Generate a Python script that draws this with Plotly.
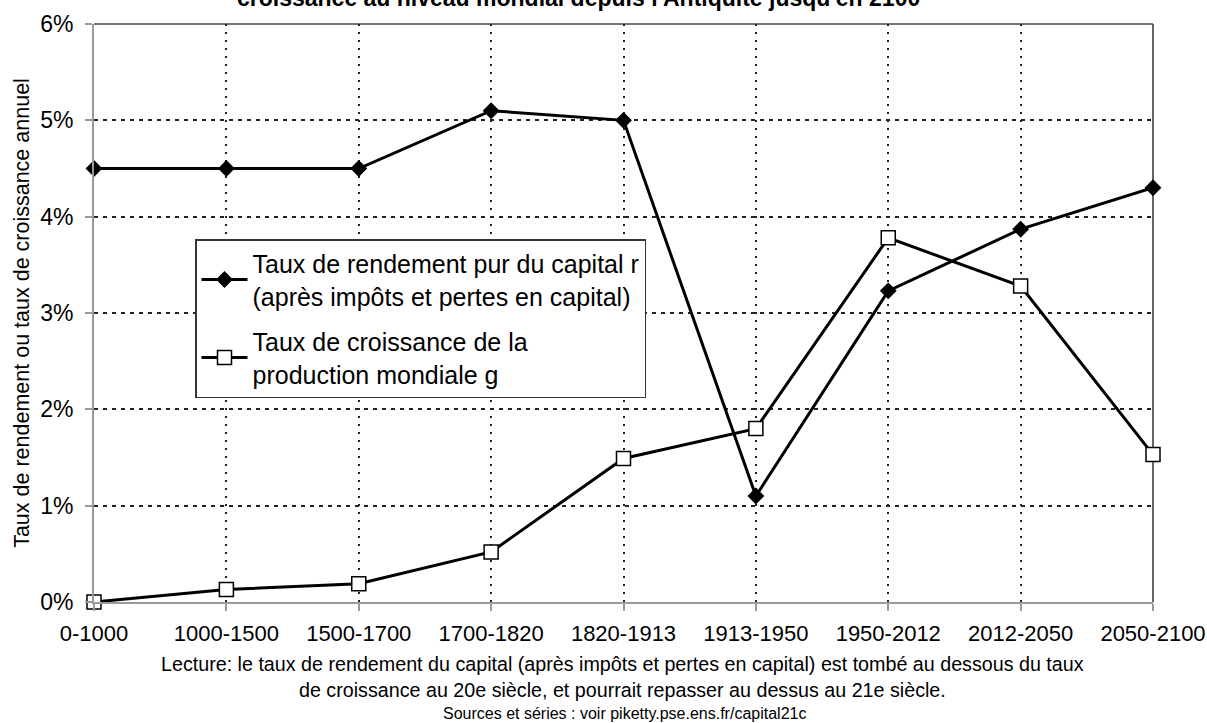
import plotly.graph_objects as go

periods = ["0-1000", "1000-1500", "1500-1700", "1700-1820", "1820-1913",
           "1913-1950", "1950-2012", "2012-2050", "2050-2100"]
r_values = [4.5, 4.5, 4.5, 5.1, 5.0, 1.1, 3.23, 3.87, 4.3]
g_values = [0.0, 0.13, 0.19, 0.52, 1.49, 1.8, 3.78, 3.28, 1.53]
y_tickvals = [0, 1, 2, 3, 4, 5, 6]
y_ticktext = ["0%", "1%", "2%", "3%", "4%", "5%", "6%"]

name_r = "Taux de rendement pur du capital r<br>(après impôts et pertes en capital)"
name_g = "Taux de croissance de la<br>production mondiale g"
title_text = "croissance au niveau mondial depuis l'Antiquité jusqu'en 2100"
caption1 = "Lecture: le taux de rendement du capital (après impôts et pertes en capital) est tombé au dessous du taux"
caption2 = "de croissance au 20e siècle, et pourrait repasser au dessus au 21e siècle."
source = "Sources et séries : voir piketty.pse.ens.fr/capital21c"

FONT = "Liberation Sans, Arial, sans-serif"

W, H = 1207, 723
ML, MR, MT, MB = 94, 54, 24, 121
PH = H - MT - MB
PW = W - ML - MR

def py(p):
    return (H - MB - p) / PH

def px(p):
    return (p - ML) / PW

fig = go.Figure()
fig.add_trace(go.Scatter(
    x=periods, y=r_values, name=name_r, mode="lines+markers",
    line=dict(color="black", width=3),
    marker=dict(symbol="diamond", size=13, color="black"),
    cliponaxis=False, legendgroup="r",
))
fig.add_trace(go.Scatter(
    x=periods, y=g_values, name=name_g, mode="lines+markers",
    line=dict(color="black", width=3),
    marker=dict(symbol="square", size=14, color="white",
                line=dict(color="black", width=1.5)),
    cliponaxis=False, legendgroup="g",
))

fig.update_layout(
    width=W, height=H,
    margin=dict(l=ML, r=MR, t=MT, b=MB, autoexpand=False),
    paper_bgcolor="white", plot_bgcolor="white",
    font=dict(family=FONT, color="black"),
    showlegend=True,
    legend=dict(
        x=px(195), y=py(239), xanchor="left", yanchor="top",
        bordercolor="#333", borderwidth=1.5, bgcolor="white",
        font=dict(size=25, family=FONT),
        traceorder="grouped", tracegroupgap=10,
        itemwidth=46,
    ),
    xaxis=dict(
        type="category", range=[0, 8],
        showline=True, linecolor="#9a9a9a", linewidth=2,
        ticks="outside", ticklen=7, tickcolor="#9a9a9a", tickwidth=1.5,
        tickfont=dict(size=22, family=FONT), ticklabelstandoff=4,
        showgrid=True, gridcolor="#222", gridwidth=1.5, griddash="2px,6px",
        zeroline=False,
    ),
    yaxis=dict(
        range=[0, 6], tickvals=y_tickvals, ticktext=y_ticktext,
        showline=True, linecolor="#9a9a9a", linewidth=2,
        ticks="outside", ticklen=7, tickcolor="#9a9a9a", tickwidth=1.5,
        tickfont=dict(size=23, family=FONT), ticklabelstandoff=7,
        showgrid=True, gridcolor="#222", gridwidth=1.5, griddash="4px,5px",
        zeroline=False,
        title=dict(text="Taux de rendement ou taux de croissance annuel",
                   font=dict(size=21.5, family=FONT), standoff=5),
    ),
)

# frame: top and right borders
fig.add_shape(type="line", xref="paper", yref="paper", x0=0, x1=1, y0=1, y1=1,
              line=dict(color="#444", width=1.5), layer="below")
fig.add_shape(type="line", xref="paper", yref="paper", x0=1, x1=1, y0=0, y1=1,
              line=dict(color="#333", width=1.5), layer="below")

fig.add_annotation(text="<b>" + title_text + "</b>", xref="paper", yref="paper",
                   x=px(578), y=py(-2), xanchor="center", yanchor="middle",
                   showarrow=False, font=dict(size=23, family=FONT))
fig.add_annotation(text=caption1, xref="paper", yref="paper",
                   x=px(622), y=py(664), xanchor="center", yanchor="middle",
                   showarrow=False, font=dict(size=19.7, family=FONT))
fig.add_annotation(text=caption2, xref="paper", yref="paper",
                   x=px(622), y=py(690), xanchor="center", yanchor="middle",
                   showarrow=False, font=dict(size=19.7, family=FONT))
fig.add_annotation(text=source, xref="paper", yref="paper",
                   x=px(624), y=py(713), xanchor="center", yanchor="middle",
                   showarrow=False, font=dict(size=16, family=FONT))

fig.write_html("out.html",
               config={"displayModeBar": False},
               post_script="document.body.style.margin='0';document.body.style.overflow='hidden';")
